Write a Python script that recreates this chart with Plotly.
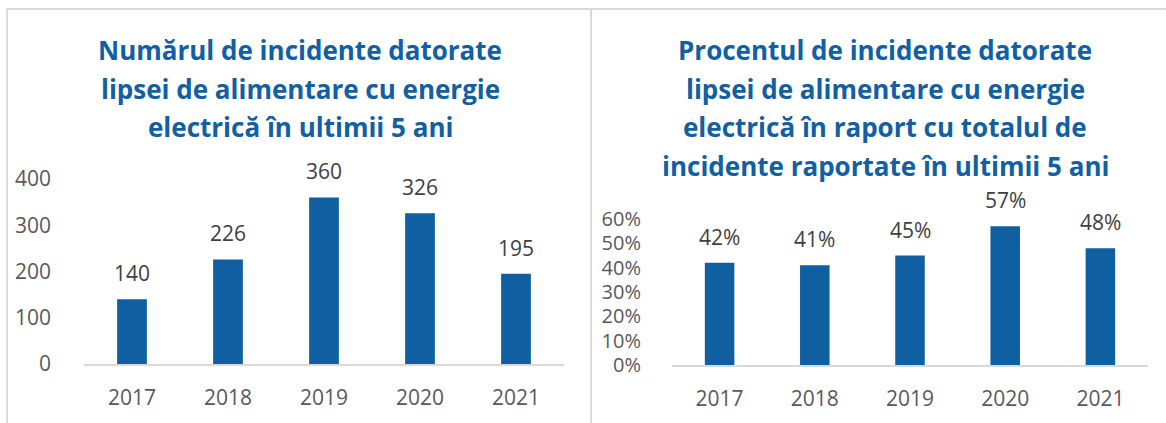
import plotly.graph_objects as go

years = ["2017", "2018", "2019", "2020", "2021"]
counts = [140, 226, 360, 326, 195]
percents = [0.42, 0.41, 0.45, 0.57, 0.48]
count_ticks = [0, 100, 200, 300, 400]
pct_ticks = [0, 0.1, 0.2, 0.3, 0.4, 0.5, 0.6]

title_left = ["Numărul de incidente datorate",
              "lipsei de alimentare cu energie",
              "electrică în ultimii 5 ani"]
title_right = ["Procentul de incidente datorate",
               "lipsei de alimentare cu energie",
               "electrică în raport cu totalul de",
               "incidente raportate în ultimii 5 ani"]

BAR = "#0F5FA1"
TXT = "#404040"
TICK = "#595959"
GRID = "#D9D9D9"
TITLE = "#1060A3"
FONT = "Open Sans"
W, H = 1166, 423
FS = 21

fig = go.Figure()
fig.add_trace(go.Bar(x=years, y=counts, marker_color=BAR, marker_line_width=0,
                     cliponaxis=False, xaxis="x", yaxis="y", width=0.31))
fig.add_trace(go.Bar(x=years, y=percents, marker_color=BAR, marker_line_width=0,
                     cliponaxis=False, xaxis="x2", yaxis="y2", width=0.31))

for i, v in enumerate(counts):
    fig.add_annotation(x=i, y=v, xref="x", yref="y", text=str(v), showarrow=False,
                       xanchor="center", yanchor="bottom", yshift=10,
                       font=dict(family=FONT, size=FS, color=TXT))
for i, v in enumerate(percents):
    fig.add_annotation(x=i, y=v, xref="x2", yref="y2", text=f"{round(v*100)}%", showarrow=False,
                       xanchor="center", yanchor="bottom", yshift=10,
                       font=dict(family=FONT, size=FS, color=TXT))


def px_x(a, b):
    return [a / W, b / W]


def px_y(top, bottom):
    return [(H - bottom) / H, (H - top) / H]


axis_common = dict(showgrid=False, zeroline=False, fixedrange=True)
fig.update_layout(
    width=W, height=H,
    margin=dict(l=0, r=0, t=0, b=0, autoexpand=False),
    paper_bgcolor="white", plot_bgcolor="white",
    showlegend=False,
    font=dict(family=FONT, color=TICK),
    xaxis=dict(domain=px_x(84, 564), anchor="y", type="category", range=[-0.5, 4.5],
               showline=True, linecolor=GRID, linewidth=2,
               ticks="", tickfont=dict(size=FS, color=TICK), ticklabelstandoff=14,
               **axis_common),
    yaxis=dict(domain=px_y(179, 364), anchor="x", range=[0, 400],
               tickvals=count_ticks, ticktext=[str(t) for t in count_ticks],
               showline=False, ticks="", tickfont=dict(size=FS, color=TICK),
               ticklabelstandoff=32, **axis_common),
    xaxis2=dict(domain=px_x(672, 1148), anchor="y2", type="category", range=[-0.5, 4.5],
                showline=True, linecolor=GRID, linewidth=2,
                ticks="", tickfont=dict(size=FS, color=TICK), ticklabelstandoff=14,
                **axis_common),
    yaxis2=dict(domain=px_y(219, 365), anchor="x2", range=[0, 0.6],
                tickvals=pct_ticks, ticktext=[f"{round(t*100)}%" for t in pct_ticks],
                showline=False, ticks="", tickfont=dict(size=20, color=TICK),
                ticklabelstandoff=30, **axis_common),
)

LINE_GAP = 38.7
for i, t in enumerate(title_left):
    fig.add_annotation(text=t, xref="paper", yref="paper",
                       x=300 / W, y=(H - (50 + i * LINE_GAP)) / H,
                       xanchor="center", yanchor="middle", showarrow=False,
                       font=dict(family=FONT, size=26, color=TITLE, weight="bold"))
for i, t in enumerate(title_right):
    fig.add_annotation(text=t, xref="paper", yref="paper",
                       x=885 / W, y=(H - (50 + i * LINE_GAP)) / H,
                       xanchor="center", yanchor="middle", showarrow=False,
                       font=dict(family=FONT, size=26, color=TITLE, weight="bold"))

line = dict(color=GRID, width=2)
fig.add_shape(type="line", xref="paper", yref="paper", x0=7 / W, x1=1, y0=(H - 9) / H, y1=(H - 9) / H, line=line)
fig.add_shape(type="line", xref="paper", yref="paper", x0=7 / W, x1=7 / W, y0=0, y1=(H - 9) / H, line=line)
fig.add_shape(type="line", xref="paper", yref="paper", x0=591 / W, x1=591 / W, y0=0, y1=(H - 9) / H, line=line)

fig.write_html("out.html", config={"displayModeBar": False},
               post_script="document.body.style.margin='0';document.body.style.overflow='hidden';")
